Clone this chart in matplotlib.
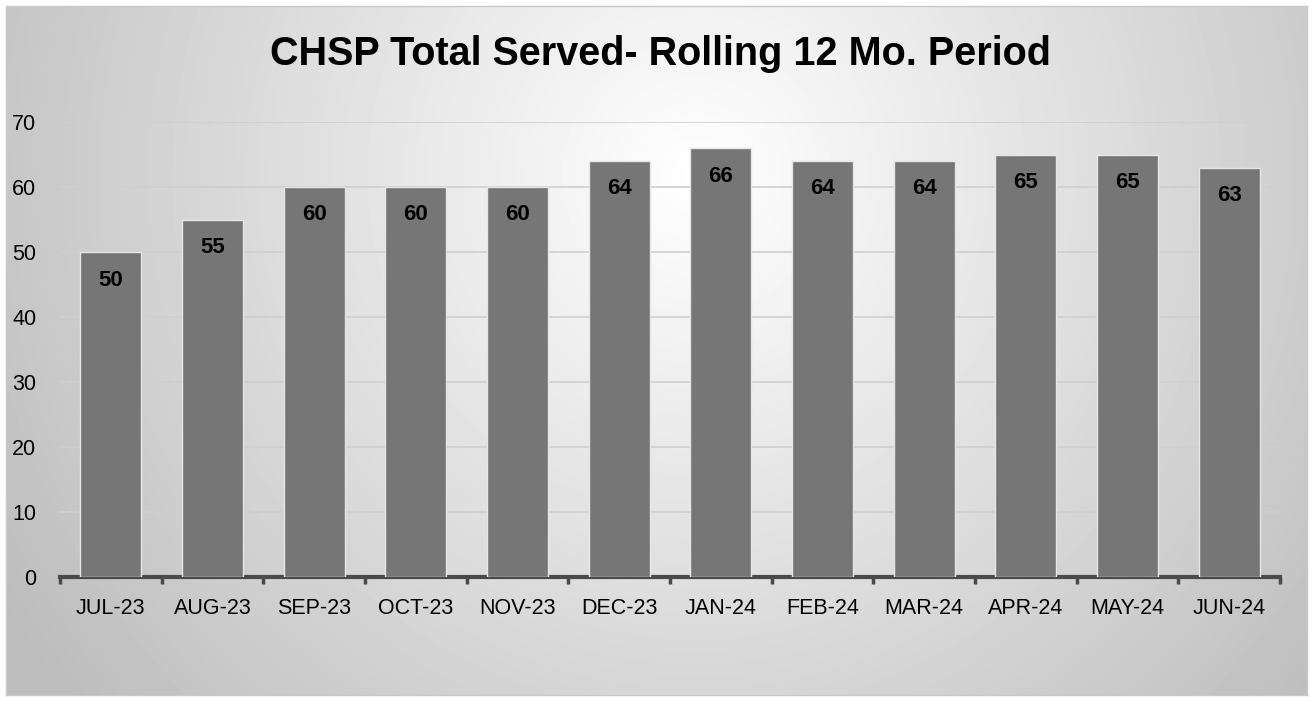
import numpy as np
import matplotlib.pyplot as plt

months = ["JUL-23", "AUG-23", "SEP-23", "OCT-23", "NOV-23", "DEC-23",
          "JAN-24", "FEB-24", "MAR-24", "APR-24", "MAY-24", "JUN-24"]
served = [50, 55, 60, 60, 60, 64, 66, 64, 64, 65, 65, 63]
yticks = [0, 10, 20, 30, 40, 50, 60, 70]

plt.rcParams['font.family'] = ['Liberation Sans', 'DejaVu Sans']

W, H = 1313, 701
fig = plt.figure(figsize=(W / 100, H / 100), dpi=100)

# radial gradient background
bg = fig.add_axes([6 / W, 6 / H, (W - 12) / W, (H - 12) / H])
yy, xx = np.mgrid[0:H - 12, 0:W - 12]
cx, cy = 690, 170
d = np.sqrt(((xx - cx) / 780.0) ** 2 + ((yy - cy) / 800.0) ** 2)
val = np.clip(1.0 - 0.25 * d, 0.74, 1.0)
bg.imshow(val, cmap='gray', vmin=0, vmax=1, aspect='auto', interpolation='bilinear')
bg.set_xticks([])
bg.set_yticks([])
for s in bg.spines.values():
    s.set_color('#c8c8c8')
    s.set_linewidth(1)

# chart area
ax = fig.add_axes([60 / W, 1 - 577 / H, 1220 / W, (577 - 122) / H])
ax.patch.set_alpha(0)
x = np.arange(len(months))
bars = ax.bar(x, served, width=0.6, color='#767676', edgecolor='#e6e6e6', linewidth=1, zorder=3)
ax.set_xlim(-0.5, len(months) - 0.5)
ax.set_ylim(0, 70)
ax.set_yticks(yticks)
ax.yaxis.grid(True, color='#cfcfcf', linewidth=1.2, zorder=0)
ax.tick_params(axis='y', length=0, labelsize=15.5, pad=17)
ax.set_xticks(x)
ax.set_xticklabels(months)
ax.set_xticks(np.arange(-0.5, len(months)), minor=True)
ax.tick_params(axis='x', which='major', length=0, labelsize=15.5, pad=15)
ax.tick_params(axis='x', which='minor', length=5, width=2.5, color='#4a4a4a')
for side in ['top', 'right', 'left']:
    ax.spines[side].set_visible(False)
ax.spines['bottom'].set_color('#4a4a4a')
ax.spines['bottom'].set_linewidth(3)

for b, v in zip(bars, served):
    ax.annotate(str(v), (b.get_x() + b.get_width() / 2, v), xytext=(0, -28),
                textcoords='offset pixels',
                ha='center', va='center', fontsize=16, fontweight='bold',
                color='black', zorder=4)

fig.text(661 / W, 1 - 54 / H, "CHSP Total Served- Rolling 12 Mo. Period",
         ha='center', va='center', fontsize=28.5, fontweight='bold', color='black')

fig.savefig('out.png', dpi=100)
